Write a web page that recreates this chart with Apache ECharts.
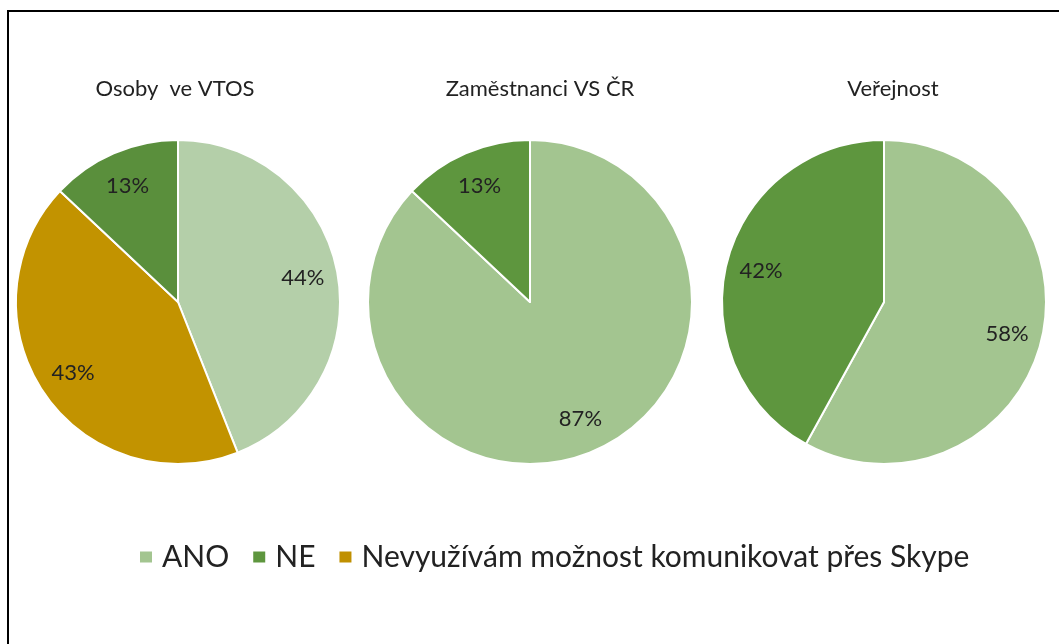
<!DOCTYPE html>
<html lang="cs">
<head>
    <meta charset="UTF-8">
    <title>Skype</title>
    <script src="https://cdn.jsdelivr.net/npm/echarts@6/dist/echarts.min.js"></script>
    <style>
        html, body { margin: 0; padding: 0; background: #fff; }
        #main { position: absolute; left: 0; top: 0; width: 1059px; height: 644px; }
        .frame { position: absolute; left: 7px; top: 10px; right: 0; bottom: 0;
                 border-left: 2px solid #000; border-top: 2px solid #000; }
    </style>
</head>
<body>
<div id="main"></div>
<div class="frame"></div>

<script>
    // data
    var groups = ['Osoby  ve VTOS', 'Zaměstnanci VS ČR', 'Veřejnost'];
    var answers = ['ANO', 'NE', 'Nevyužívám možnost komunikovat přes Skype'];
    // clockwise from top, in per cent
    var vtos = [['ANO', 44], ['Nevyužívám možnost komunikovat přes Skype', 43], ['NE', 13]];
    var zamestnanci = [['ANO', 87], ['NE', 13]];
    var verejnost = [['ANO', 58], ['NE', 42]];

    var colors = {
        'ANO': '#a3c590',
        'NE': '#5e963e',
        'Nevyužívám možnost komunikovat přes Skype': '#c09000'
    };
    // first pie has a paler ANO
    var colorsVtos = {
        'ANO': '#b4cfa9',
        'NE': '#5a8f3c',
        'Nevyužívám možnost komunikovat přes Skype': '#c29300'
    };

    var font = 'Lato, "Liberation Sans", sans-serif';
    var textColor = '#222';
    var centersX = [178, 530, 884];
    var titleX = [170, 535, 888];
    var R = 162;

    function toItems(rows, pal) {
        return rows.map(function (r) {
            return { name: r[0], value: r[1], itemStyle: { color: pal[r[0]] } };
        });
    }

    var sets = [toItems(vtos, colorsVtos), toItems(zamestnanci, colors), toItems(verejnost, colors)];

    var series = [];
    sets.forEach(function (items, i) {
        // the pie itself
        series.push({
            type: 'pie',
            center: [centersX[i], 302],
            radius: [0, R],
            startAngle: 90,
            clockwise: true,
            silent: true,
            label: { show: false },
            labelLine: { show: false },
            itemStyle: { borderColor: '#fff', borderWidth: 2 },
            emphasis: { disabled: true },
            data: items
        });
    });
    sets.forEach(function (items, i) {
        // transparent ring, only to put the labels further out
        series.push({
            type: 'pie',
            center: [centersX[i], 302],
            radius: [86, R],
            startAngle: 90,
            clockwise: true,
            silent: true,
            percentPrecision: 0,
            itemStyle: { color: 'rgba(0,0,0,0)', borderWidth: 0 },
            label: {
                show: true,
                position: 'inside',
                formatter: '{d}%',
                color: textColor,
                fontFamily: font,
                fontSize: 22
            },
            labelLine: { show: false },
            emphasis: { disabled: true },
            data: items.map(function (it) { return { name: it.name, value: it.value }; })
        });
    });

    var chart = echarts.init(document.getElementById('main'));

    var option = {
        backgroundColor: '#fff',
        animation: false,
        title: groups.map(function (g, i) {
            return {
                text: g,
                left: titleX[i],
                top: 73,
                textAlign: 'center',
                textStyle: { fontFamily: font, fontSize: 22, fontWeight: 'normal', color: textColor }
            };
        }),
        legend: {
            left: 133,
            top: 537,
            itemWidth: 14,
            itemHeight: 13,
            itemGap: 22,
            icon: 'rect',
            selectedMode: false,
            textStyle: { fontFamily: font, fontSize: 30, color: textColor, padding: [0, 0, 0, 4] },
            data: answers.map(function (a) {
                return { name: a, itemStyle: { color: colors[a] } };
            })
        },
        series: series
    };

    chart.setOption(option);
</script>
</body>
</html>
